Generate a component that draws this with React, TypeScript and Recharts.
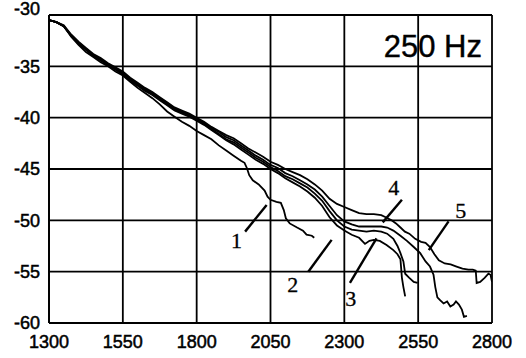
import { LineChart, Line, XAxis, YAxis, CartesianGrid, ReferenceLine, ReferenceDot } from 'recharts'

const xTicks = [1300, 1550, 1800, 2050, 2300, 2550, 2800]
const yTicks = [-60, -55, -50, -45, -40, -35, -30]

const bundleX = [1300, 1325, 1350, 1375, 1400, 1425, 1450, 1475, 1500, 1525, 1550, 1575, 1600, 1625, 1650, 1675, 1700, 1725, 1750, 1775, 1800, 1825, 1850, 1875, 1900, 1925, 1950, 1975, 2000, 2025, 2050, 2075, 2100, 2125, 2150, 2175, 2200, 2225, 2250, 2275, 2300]

const c1X = [1300, 1325, 1350, 1375, 1400, 1425, 1450, 1475, 1500, 1525, 1550, 1575, 1600, 1625, 1650, 1675, 1700, 1725, 1750, 1775, 1800, 1825, 1850, 1875, 1900, 1925, 1950, 1962, 1970, 1978, 1990, 2010, 2030, 2040, 2050, 2070, 2085, 2095, 2102, 2115, 2140, 2160, 2172, 2190, 2198]
const c1Y = [-30.5, -30.7, -31.1, -32.1, -32.9, -33.6, -34.1, -34.6, -35.0, -35.5, -35.9, -36.5, -37.1, -37.6, -38.1, -38.7, -39.4, -39.9, -40.4, -40.8, -41.3, -41.7, -42.1, -42.7, -43.2, -43.7, -44.2, -44.4, -44.9, -45.6, -46.1, -46.5, -47.1, -47.7, -48.0, -48.2, -48.3, -49.0, -49.8, -50.3, -50.7, -51.0, -51.4, -51.5, -51.7]

const c2TailX = [2325, 2350, 2370, 2385, 2400, 2420, 2443, 2466, 2480, 2490, 2495, 2500, 2506]
const c2Y = [-30.5, -30.7, -31.1, -32.0, -32.8, -33.4, -34.0, -34.4, -34.9, -35.3, -35.8, -36.4, -36.9, -37.4, -37.8, -38.3, -38.8, -39.3, -39.6, -39.9, -40.3, -40.7, -41.2, -41.7, -42.2, -42.6, -43.1, -43.6, -44.1, -44.5, -45.0, -45.4, -45.9, -46.3, -46.7, -47.2, -47.8, -48.6, -49.7, -50.5, -51.0,
  -51.4, -51.7, -52.3, -52.0, -51.9, -52.0, -52.4, -52.9, -53.3, -53.8, -55.6, -56.5, -57.4]

const c3TailX = [2325, 2350, 2375, 2400, 2425, 2445, 2466, 2480, 2490, 2500, 2506, 2520, 2535, 2548]
const c3Y = [-30.5, -30.7, -31.1, -32.0, -32.7, -33.3, -33.9, -34.4, -34.9, -35.3, -35.7, -36.3, -36.8, -37.3, -37.7, -38.2, -38.7, -39.2, -39.5, -39.8, -40.2, -40.6, -41.1, -41.6, -42.1, -42.4, -42.9, -43.4, -43.9, -44.3, -44.8, -45.2, -45.7, -46.0, -46.4, -46.8, -47.4, -48.1, -49.1, -50.0, -50.6,
  -50.9, -51.0, -51.1, -51.0, -51.1, -51.3, -51.8, -52.5, -53.2, -54.0, -55.2, -55.6, -56.0, -56.1]

const c4TailX = [2325, 2350, 2375, 2400, 2425, 2445, 2466, 2490, 2512, 2535, 2557, 2575, 2590, 2602, 2608, 2615, 2625, 2636, 2648, 2659, 2670, 2678, 2688, 2698, 2705, 2715]
const c4Y = [-30.5, -30.7, -31.1, -32.0, -32.7, -33.3, -33.9, -34.3, -34.8, -35.2, -35.6, -36.2, -36.7, -37.2, -37.6, -38.1, -38.6, -39.1, -39.4, -39.7, -40.1, -40.5, -41.0, -41.4, -41.9, -42.2, -42.7, -43.2, -43.7, -44.1, -44.6, -44.9, -45.4, -45.7, -46.1, -46.5, -47.0, -47.7, -48.6, -49.5, -50.1,
  -50.4, -50.6, -50.6, -50.6, -50.6, -50.7, -51.0, -51.5, -52.0, -52.6, -53.2, -54.0, -54.5, -55.3, -56.5, -57.5, -57.8, -58.1, -57.9, -58.4, -58.2, -57.9, -58.2, -58.7, -59.4, -59.3]

const c5TailX = [2325, 2350, 2375, 2400, 2425, 2440, 2460, 2475, 2490, 2505, 2520, 2540, 2560, 2575, 2590, 2605, 2620, 2640, 2660, 2680, 2700, 2720, 2735, 2745, 2748, 2760, 2775, 2788, 2795, 2800]
const c5Y = [-30.5, -30.7, -31.0, -31.9, -32.6, -33.2, -33.8, -34.2, -34.7, -35.1, -35.5, -36.1, -36.6, -37.1, -37.5, -38.0, -38.5, -39.0, -39.3, -39.6, -40.0, -40.4, -40.9, -41.3, -41.7, -42.0, -42.5, -43.0, -43.4, -43.8, -44.3, -44.6, -45.0, -45.3, -45.6, -46.0, -46.5, -47.1, -47.9, -48.4, -48.7,
  -49.0, -49.3, -49.4, -49.4, -49.5, -49.7, -50.0, -50.3, -50.7, -51.1, -51.3, -51.8, -52.1, -52.2, -52.6, -53.3, -53.9, -54.2, -54.3, -54.5, -54.7, -54.8, -54.8, -54.9, -56.1, -56.0, -55.6, -55.2, -55.3, -56.0]

// curve number labels and their leader lines, in data units
const labelNames = ['1', '2', '3', '4', '5']
const labelX = [1935, 2125, 2322, 2467, 2694]
const labelY = [-51.9, -56.25, -57.6, -46.8, -49.0]
const leaderFrom = [[1964, -51.1], [2178, -55.0], [2319, -56.1], [2495, -48.0], [2653, -50.1]]
const leaderTo = [[2037, -48.5], [2257, -51.9], [2409, -51.75], [2430, -50.2], [2586, -52.9]]

const toPoints = (xs: number[], ys: number[]) => xs.map((x, i) => ({ x, y: ys[i] }))

const series = [
  toPoints(c1X, c1Y),
  toPoints([...bundleX, ...c2TailX], c2Y),
  toPoints([...bundleX, ...c3TailX], c3Y),
  toPoints([...bundleX, ...c4TailX], c4Y),
  toPoints([...bundleX, ...c5TailX], c5Y),
]

const sans = '"Liberation Sans", Arial, sans-serif'

const XTick = ({ x, y, payload }: any) => (
  <text x={x} y={y} dy="0.71em" textAnchor="middle" fontFamily={sans} fontSize={18} fill="#000" stroke="#000" strokeWidth={0.5}>
    {payload.value}
  </text>
)

const YTick = ({ x, y, payload }: any) => (
  <text x={x} y={payload.value === -30 ? y - 6 : y} dy="0.36em" textAnchor="end" fontFamily={sans} fontSize={18} fill="#000" stroke="#000" strokeWidth={0.5}>
    {payload.value}
  </text>
)

export default function App() {
  return (
    <div style={{ position: 'relative', width: 526, height: 358, background: '#fff' }}>
      <style>{'body{margin:0}'}</style>
      <LineChart width={526} height={358} margin={{ top: 15, right: 34, left: 5, bottom: 5 }}>
        <CartesianGrid stroke="#000" strokeWidth={1.8} strokeOpacity={1} />
        <XAxis
          dataKey="x"
          type="number"
          domain={[1300, 2800]}
          ticks={xTicks}
          height={30}
          tickSize={0}
          tickMargin={12}
          axisLine={{ stroke: '#000', strokeWidth: 1.8 }}
          tickLine={false}
          tick={<XTick />}
          allowDataOverflow
        />
        <YAxis
          type="number"
          domain={[-60, -30]}
          ticks={yTicks}
          width={44}
          tickSize={0}
          tickMargin={9}
          axisLine={{ stroke: '#000', strokeWidth: 1.8 }}
          tickLine={false}
          tick={<YTick />}
          allowDataOverflow
        />
        {series.map((data, i) => (
          <Line
            key={i}
            data={data}
            dataKey="y"
            type="linear"
            stroke="#000"
            strokeWidth={1.8}
            dot={false}
            activeDot={false}
            isAnimationActive={false}
          />
        ))}
        {leaderFrom.map((p, i) => (
          <ReferenceLine
            key={'l' + i}
            segment={[{ x: p[0], y: p[1] }, { x: leaderTo[i][0], y: leaderTo[i][1] }]}
            stroke="#000"
            strokeWidth={2.4}
          />
        ))}
        {labelNames.map((name, i) => (
          <ReferenceDot
            key={'d' + i}
            x={labelX[i]}
            y={labelY[i]}
            r={0}
            fill="none"
            stroke="none"
            label={{ value: name, position: 'center', fontSize: 22, fontFamily: '"Liberation Serif", "Times New Roman", serif', fill: '#000', stroke: '#000', strokeWidth: 0.3 }}
          />
        ))}
      </LineChart>
      <div
        style={{
          position: 'absolute',
          right: 44,
          top: 31,
          fontFamily: sans,
          fontSize: 31,
          lineHeight: 1,
          color: '#000',
          whiteSpace: 'nowrap',
          WebkitTextStroke: '0.4px #000',
        }}
      >
        250 Hz
      </div>
    </div>
  )
}
